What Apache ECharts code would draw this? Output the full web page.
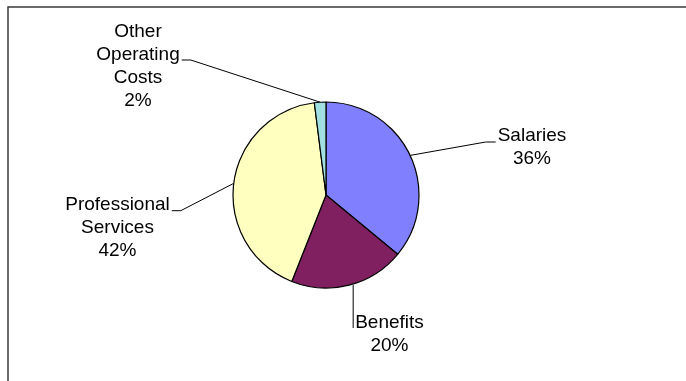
<!DOCTYPE html>
<html>
<head>
<meta charset="utf-8">
<script src="https://cdn.jsdelivr.net/npm/echarts@6/dist/echarts.min.js"></script>
<style>
  html, body { margin: 0; padding: 0; background: #ffffff; }
  #chart { width: 686px; height: 381px; }
</style>
</head>
<body>
<div id="chart"></div>
<script>
// Operating budget split
const categories = ['Salaries', 'Benefits', 'Professional Services', 'Other Operating Costs'];
const shares = [36, 20, 42, 2];
const sliceColors = ['#8080FF', '#802060', '#FFFFC0', '#A0E0E0'];

// Where each label block sits (centre) and where its leader line meets the text
const labelSpots = [
  { x: 532,   y: 147.5, hookDy: -5.5,  elbow: 10 },
  { x: 389.5, y: 334.5, hookDy: -6.5,  elbow: 0 },
  { x: 117.5, y: 228,   hookDy: -17.3, elbow: 9 },
  { x: 138,   y: 66.5,  hookDy: -6.5,  elbow: 9 }
];

const pieCenter = [326, 195];
const pieRadius = 93;

const chart = echarts.init(document.getElementById('chart'), null, { renderer: 'canvas' });

chart.setOption({
  animation: false,
  backgroundColor: '#ffffff',
  graphic: [{
    type: 'rect',
    silent: true,
    shape: { x: 8, y: 7, width: 720, height: 420 },
    style: { fill: 'none', stroke: '#3a3a3a', lineWidth: 1.5 }
  }],
  series: [{
    type: 'pie',
    center: pieCenter,
    radius: pieRadius,
    startAngle: 90,
    clockwise: true,
    avoidLabelOverlap: false,
    itemStyle: { borderColor: '#000000', borderWidth: 1.2 },
    label: {
      show: true,
      position: 'outside',
      color: '#000000',
      fontFamily: '"Liberation Sans", Arial, sans-serif',
      fontSize: 19,
      lineHeight: 23,
      align: 'center',
      formatter: p => p.name.split(' ').join('\n') + '\n' + p.percent + '%'
    },
    labelLine: {
      show: true,
      length: 10,
      length2: 10,
      lineStyle: { color: '#000000', width: 1 }
    },
    labelLayout: params => {
      const spot = labelSpots[params.dataIndex];
      const w = params.labelRect.width;
      const onRight = spot.x > pieCenter[0];
      const hookX = onRight ? spot.x - w / 2 - 2 : spot.x + w / 2 + 2;
      const hookY = spot.y + spot.hookDy;
      const start = params.labelLinePoints ? params.labelLinePoints[0] : [hookX, hookY];
      let pts;
      if (spot.elbow === 0) {
        pts = [[hookX, start[1]], [hookX, hookY], [hookX, hookY]];
      } else {
        const elbowX = onRight ? hookX - spot.elbow : hookX + spot.elbow;
        pts = [start, [elbowX, hookY], [hookX, hookY]];
      }
      return {
        x: spot.x,
        y: spot.y,
        align: 'center',
        verticalAlign: 'middle',
        labelLinePoints: pts
      };
    },
    data: categories.map((name, i) => ({
      name: name,
      value: shares[i],
      itemStyle: { color: sliceColors[i] }
    }))
  }]
});
</script>
</body>
</html>
